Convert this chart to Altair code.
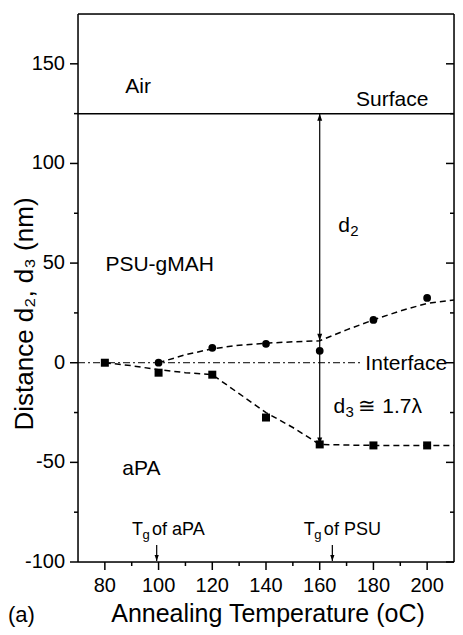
import altair as alt
import pandas as pd

# ---------------- data ----------------
circ_T = [100, 120, 140, 160, 180, 200]
circ_d = [0, 7.5, 9.5, 6, 21.5, 32.5]
sq_T = [80, 100, 120, 140, 160, 180, 200]
sq_d = [0, -5, -6, -27.5, -41, -41.5, -41.5]

fit_up_T = [100, 110, 120, 130, 140, 150, 160, 170, 180, 190, 200, 210]
fit_up_d = [0, 4, 7, 8.8, 9.8, 10.5, 11, 16.5, 21.5, 26, 29.8, 31.5]
fit_lo_T = [80, 90, 100, 110, 120, 130, 140, 150, 160, 170, 180, 190, 200, 210]
fit_lo_d = [0, -1.5, -3.5, -5, -6, -15.5, -25, -32.5, -41, -41.3, -41.5, -41.5, -41.5, -41.5]

x_domain = [70, 210]
y_domain = [-100, 175]
x_major = [80, 100, 120, 140, 160, 180, 200]
x_major_labels = ["80", "100", "120", "140", "160", "180", "200"]
x_minor = [90, 110, 130, 150, 170, 190]
y_major = [-100, -50, 0, 50, 100, 150]
y_major_labels = ["-100", "-50", "0", "50", "100", "150"]
y_minor = [-75, -25, 25, 75, 125]

x_title = "Annealing Temperature (oC)"
y_title = "Distance d\u2082, d\u2083 (nm)"

surface_d = 125
interface_end_T = 175
d_T = 160
d2_arrow_d = 11
d3_arrow_d = -41
tg_T = [99.3, 164.7]
tg_top = -91.5
tg_tip = -99.5

labels_main = pd.DataFrame({
    "T": [87.6, 173.5, 80.2, 86.5, 177.0, 166.9, 165.1],
    "d": [135.5, 129.0, 46.0, -56.5, -3.8, 65.6, -25.2],
    "text": ["Air", "Surface", "PSU-gMAH", "aPA", "Interface", "d", "d"],
})
sub_labels = pd.DataFrame({"T": [166.9, 165.1], "d": [65.6, -25.2], "text": ["2", "3"]})
approx_label = pd.DataFrame({"T": [165.1], "d": [-25.2], "text": ["\u2245 1.7\u03bb"]})
tg_labels = pd.DataFrame({"T": [90.1, 154.1], "d": [-86.5, -86.5], "text": ["of aPA", "of PSU"]})

W, H = 376, 548
PAD_L, PAD_T = 70, 6
SVG_W, SVG_H = 447, 619
FONT = "Liberation Sans"

xs = alt.Scale(domain=x_domain, nice=False, zero=False)
ys = alt.Scale(domain=y_domain, nice=False, zero=False)


def X(f="T"):
    return alt.X(f"{f}:Q", scale=xs, axis=None)


def Y(f="d"):
    return alt.Y(f"{f}:Q", scale=ys, axis=None)


df_up = pd.DataFrame({"T": fit_up_T, "d": fit_up_d})
df_lo = pd.DataFrame({"T": fit_lo_T, "d": fit_lo_d})
df_c = pd.DataFrame({"T": circ_T, "d": circ_d})
df_s = pd.DataFrame({"T": sq_T, "d": sq_d})

fit_up = alt.Chart(df_up).mark_line(color="black", strokeWidth=1.5, strokeDash=[6, 4]).encode(x=X(), y=Y())
fit_lo = alt.Chart(df_lo).mark_line(color="black", strokeWidth=1.5, strokeDash=[6, 4]).encode(x=X(), y=Y())
circles = alt.Chart(df_c).mark_circle(color="black", size=60, opacity=1).encode(x=X(), y=Y())
squares = alt.Chart(df_s).mark_square(color="black", size=64, opacity=1).encode(x=X(), y=Y())

interface = alt.Chart(pd.DataFrame({"T": [x_domain[0]], "T2": [interface_end_T], "d": [0]})).mark_rule(
    color="black", strokeWidth=1, strokeDash=[7, 3, 2, 3]).encode(x=X(), x2="T2:Q", y=Y())
surface = alt.Chart(pd.DataFrame({"T": [x_domain[0]], "T2": [x_domain[1]], "d": [surface_d]})).mark_rule(
    color="black", strokeWidth=1.5).encode(x=X(), x2="T2:Q", y=Y())
vline = alt.Chart(pd.DataFrame({"T": [d_T], "d": [d3_arrow_d], "d2": [surface_d]})).mark_rule(
    color="black", strokeWidth=1.2).encode(x=X(), y=Y(), y2="d2:Q")

UP = "M0,0L-0.7,2L0.7,2Z"
DOWN = "M0,0L-0.7,-2L0.7,-2Z"
head_up = alt.Chart(pd.DataFrame({"T": [d_T], "d": [surface_d]})).mark_point(
    shape=UP, filled=True, color="black", size=49, opacity=1).encode(x=X(), y=Y())
head_down = alt.Chart(pd.DataFrame({"T": [d_T, d_T], "d": [d2_arrow_d, d3_arrow_d]})).mark_point(
    shape=DOWN, filled=True, color="black", size=49, opacity=1).encode(x=X(), y=Y())

tg_df = pd.DataFrame({"T": tg_T, "d": [tg_top] * 2, "d2": [tg_tip] * 2})
tg_lines = alt.Chart(tg_df).mark_rule(color="black", strokeWidth=1.2).encode(x=X(), y=Y(), y2="d2:Q")
tg_heads = alt.Chart(pd.DataFrame({"T": tg_T, "d": [tg_tip] * 2})).mark_point(
    shape=DOWN, filled=True, color="black", size=36, opacity=1).encode(x=X(), y=Y())

# ---------------- frame, ticks and labels drawn from the tick lists ----------------
tick_style = dict(color="black", strokeWidth=1.5)
frame_left = alt.Chart(pd.DataFrame({"k": [0]})).mark_rule(**tick_style).encode(
    x=alt.value(0), y=alt.value(0), y2=alt.value(H))
frame_right = alt.Chart(pd.DataFrame({"k": [0]})).mark_rule(**tick_style).encode(
    x=alt.value(W), y=alt.value(0), y2=alt.value(H))
frame_top = alt.Chart(pd.DataFrame({"k": [0]})).mark_rule(**tick_style).encode(
    x=alt.value(0), x2=alt.value(W), y=alt.value(0))
frame_bottom = alt.Chart(pd.DataFrame({"k": [0]})).mark_rule(**tick_style).encode(
    x=alt.value(0), x2=alt.value(W), y=alt.value(H))

left_major = alt.Chart(pd.DataFrame({"d": y_major})).mark_rule(**tick_style).encode(
    x=alt.value(-8), x2=alt.value(0), y=Y())
left_minor = alt.Chart(pd.DataFrame({"d": y_minor})).mark_rule(**tick_style).encode(
    x=alt.value(-4), x2=alt.value(0), y=Y())
right_major = alt.Chart(pd.DataFrame({"d": y_major})).mark_rule(**tick_style).encode(
    x=alt.value(W - 8), x2=alt.value(W), y=Y())
right_minor = alt.Chart(pd.DataFrame({"d": y_minor})).mark_rule(**tick_style).encode(
    x=alt.value(W - 4), x2=alt.value(W), y=Y())
bottom_major = alt.Chart(pd.DataFrame({"T": x_major})).mark_rule(**tick_style).encode(
    x=X(), y=alt.value(H), y2=alt.value(H + 8))
bottom_minor = alt.Chart(pd.DataFrame({"T": x_minor})).mark_rule(**tick_style).encode(
    x=X(), y=alt.value(H), y2=alt.value(H + 4))

y_lab = alt.Chart(pd.DataFrame({"d": y_major, "text": y_major_labels})).mark_text(
    font=FONT, fontSize=20, align="right", baseline="middle", color="black").encode(
    x=alt.value(-13), y=Y(), text="text:N")
x_lab = alt.Chart(pd.DataFrame({"T": x_major, "text": x_major_labels})).mark_text(
    font=FONT, fontSize=20, align="center", baseline="alphabetic", color="black").encode(
    x=X(), y=alt.value(H + 30), text="text:N")
x_tit = alt.Chart(pd.DataFrame({"text": [x_title]})).mark_text(
    font=FONT, fontSize=25, align="center", baseline="alphabetic", color="black").encode(
    x=alt.value(W / 2 + 2), y=alt.value(H + 60), text="text:N")
y_tit = alt.Chart(pd.DataFrame({"text": [y_title]})).mark_text(
    font=FONT, fontSize=26, align="center", baseline="alphabetic", color="black", angle=270).encode(
    x=alt.value(-45), y=alt.value(300), text="text:N")

# ---------------- annotations ----------------
txt_main = alt.Chart(labels_main).mark_text(
    font=FONT, fontSize=21, align="left", baseline="alphabetic", color="black").encode(
    x=X(), y=Y(), text="text:N")
txt_sub = alt.Chart(sub_labels).mark_text(
    font=FONT, fontSize=15, align="left", baseline="alphabetic", color="black", dx=12, dy=4).encode(
    x=X(), y=Y(), text="text:N")
txt_approx = alt.Chart(approx_label).mark_text(
    font=FONT, fontSize=21, align="left", baseline="alphabetic", color="black", dx=25).encode(
    x=X(), y=Y(), text="text:N")
tg_T_txt = alt.Chart(tg_labels).mark_text(
    font=FONT, fontSize=18, align="left", baseline="alphabetic", color="black", text="T").encode(
    x=X(), y=Y())
tg_g_txt = alt.Chart(tg_labels).mark_text(
    font=FONT, fontSize=13, align="left", baseline="alphabetic", color="black", text="g", dx=10.5, dy=4).encode(
    x=X(), y=Y())
tg_rest = alt.Chart(tg_labels).mark_text(
    font=FONT, fontSize=18, align="left", baseline="alphabetic", color="black", dx=20).encode(
    x=X(), y=Y(), text="text:N")

panel = alt.Chart(pd.DataFrame({"text": ["(a)"]})).mark_text(
    font=FONT, fontSize=22, align="left", baseline="alphabetic", color="black").encode(
    x=alt.value(-70), y=alt.value(H + 60), text="text:N")

chart = alt.layer(
    fit_up, fit_lo, interface, surface, vline, head_up, head_down, tg_lines, tg_heads,
    circles, squares,
    frame_left, frame_right, frame_top, frame_bottom,
    left_major, left_minor, right_major, right_minor, bottom_major, bottom_minor,
    y_lab, x_lab, x_tit, y_tit,
    txt_main, txt_sub, txt_approx, tg_T_txt, tg_g_txt, tg_rest, panel,
).properties(
    width=W, height=H,
    autosize=alt.AutoSizeParams(type="none"),
    padding={"left": PAD_L, "top": PAD_T, "right": SVG_W - PAD_L - W, "bottom": SVG_H - PAD_T - H},
).configure_view(
    stroke=None,
).configure(background="white")

chart.save("out.html", embed_options={"renderer": "svg", "actions": False})
